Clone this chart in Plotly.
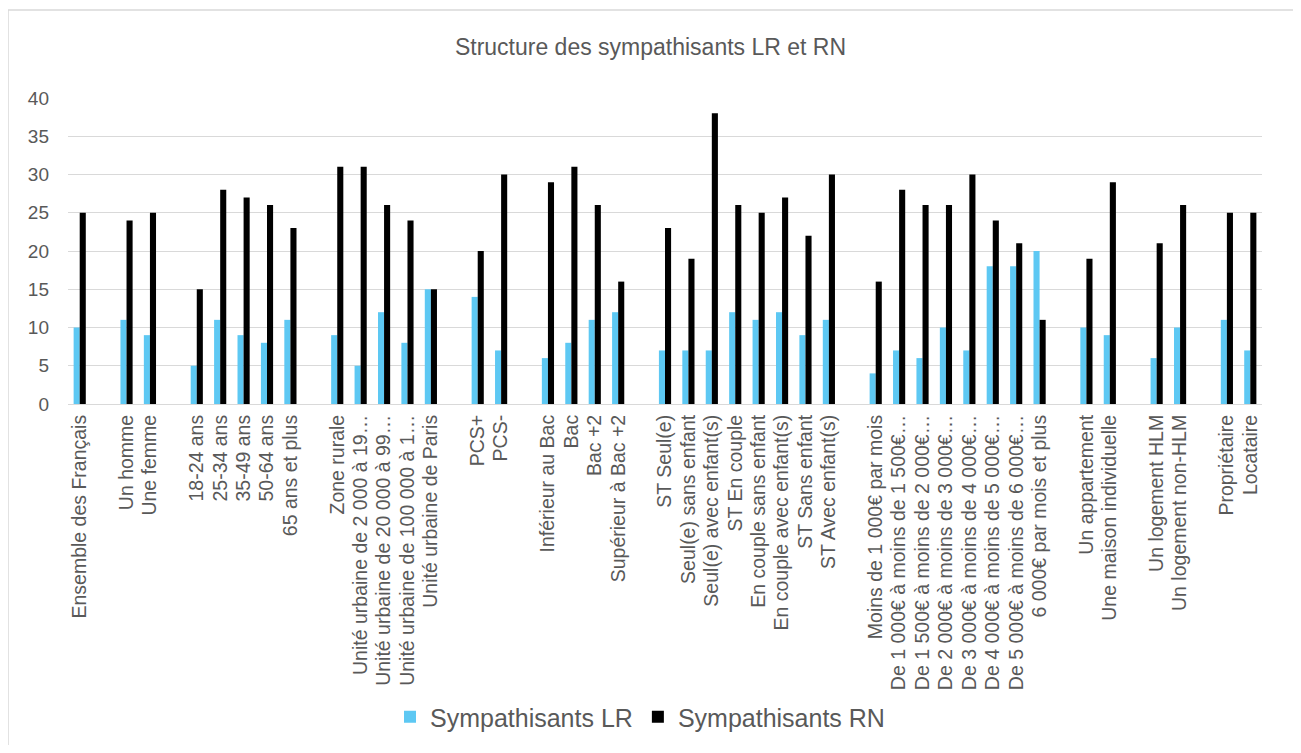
import plotly.graph_objects as go

categories = [
    "Ensemble des Français", "",
    "Un homme", "Une femme", "",
    "18-24 ans", "25-34 ans", "35-49 ans", "50-64 ans", "65 ans et plus", "",
    "Zone rurale", "Unité urbaine de 2 000 à 19…", "Unité urbaine de 20 000 à 99…",
    "Unité urbaine de 100 000 à 1…", "Unité urbaine de Paris", "",
    "PCS+", "PCS-", "",
    "Inférieur au Bac", "Bac", "Bac +2", "Supérieur à Bac +2", "",
    "ST Seul(e)", "Seul(e) sans enfant", "Seul(e) avec enfant(s)", "ST En couple",
    "En couple sans enfant", "En couple avec enfant(s)", "ST Sans enfant", "ST Avec enfant(s)", "",
    "Moins de 1 000€ par mois", "De 1 000€ à moins de 1 500€…", "De 1 500€ à moins de 2 000€…",
    "De 2 000€ à moins de 3 000€…", "De 3 000€ à moins de 4 000€…", "De 4 000€ à moins de 5 000€…",
    "De 5 000€ à moins de 6 000€…", "6 000€ par mois et plus", "",
    "Un appartement", "Une maison individuelle", "",
    "Un logement HLM", "Un logement non-HLM", "",
    "Propriétaire", "Locataire",
]

lr = [10, None,
      11, 9, None,
      5, 11, 9, 8, 11, None,
      9, 5, 12, 8, 15, None,
      14, 7, None,
      6, 8, 11, 12, None,
      7, 7, 7, 12, 11, 12, 9, 11, None,
      4, 7, 6, 10, 7, 18, 18, 20, None,
      10, 9, None,
      6, 10, None,
      11, 7]

rn = [25, None,
      24, 25, None,
      15, 28, 27, 26, 23, None,
      31, 31, 26, 24, 15, None,
      20, 30, None,
      29, 31, 26, 16, None,
      23, 19, 38, 26, 25, 27, 22, 30, None,
      16, 28, 26, 26, 30, 24, 21, 11, None,
      19, 29, None,
      21, 26, None,
      25, 25]

y_ticks = [0, 5, 10, 15, 20, 25, 30, 35, 40]

x = list(range(len(categories)))

FONT = "Liberation Sans"
GREY = "#595959"

fig = go.Figure()
fig.add_trace(go.Bar(x=x, y=lr, name="Sympathisants LR", marker=dict(color="#5DC8F3", line_width=0)))
fig.add_trace(go.Bar(x=x, y=rn, name="Sympathisants RN", marker=dict(color="#000000", line_width=0)))

# page has an 8px body margin, so figure coords = page coords - 8
OFF = 8
W, H = 1301 - 2 * OFF, 753 - 2 * OFF
L = 68 - OFF
T = 98 - OFF
R = W - (1262 - OFF)
B = H - (404 - OFF)
pw, ph = W - L - R, H - T - B

def px_to_py(page_y):
    return 1 - (page_y - OFF - T) / ph

def px_to_px(page_x):
    return (page_x - OFF - L) / pw

fig.update_layout(
    width=W, height=H,
    margin=dict(l=L, r=R, t=T, b=B, autoexpand=False),
    paper_bgcolor="white", plot_bgcolor="white",
    barmode="group", bargap=0.48, bargroupgap=0,
    font=dict(family=FONT, color=GREY),
    title=dict(text="Structure des sympathisants LR et RN", x=0.5, xref="container", xanchor="center",
               y=1 - (47 - OFF) / H, yanchor="middle", font=dict(size=23, color=GREY, family=FONT)),
    xaxis=dict(tickmode="array", tickvals=x, ticktext=categories, tickangle=-90,
               range=[-0.5, len(categories) - 0.5], showgrid=False, showline=True,
               linecolor="#d9d9d9", linewidth=1, ticks="", ticklabelstandoff=2,
               tickfont=dict(size=19.5, color=GREY), automargin=False, fixedrange=True),
    yaxis=dict(range=[0, 40], tickvals=y_ticks, showgrid=True, gridcolor="#d9d9d9", gridwidth=1,
               zeroline=False, ticks="", ticklabelstandoff=18, automargin=False,
               tickfont=dict(size=19, color=GREY)),
    legend=dict(orientation="h", x=px_to_px(640), xanchor="center", y=px_to_py(717), yanchor="middle",
                font=dict(size=25, color=GREY, family=FONT), itemwidth=30, tracegroupgap=0),
    showlegend=True,
)

fig.add_shape(type="rect", xref="paper", yref="paper",
              x0=px_to_px(8), x1=px_to_px(1295), y0=px_to_py(748), y1=px_to_py(10),
              line=dict(color="#d9d9d9", width=1.5), fillcolor="rgba(0,0,0,0)", layer="below")

fig.write_html("out.html")
